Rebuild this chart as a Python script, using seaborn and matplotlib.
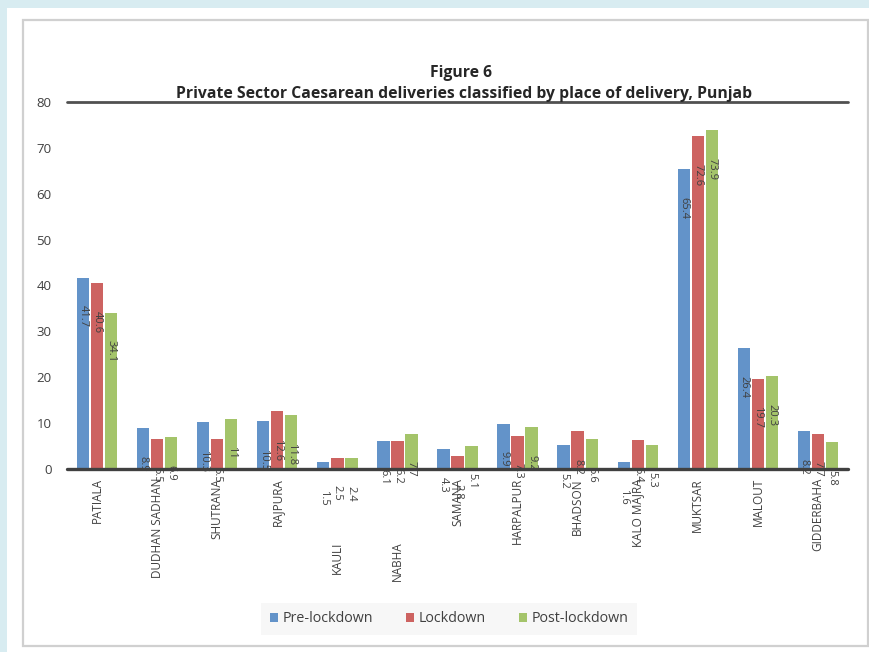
import matplotlib
matplotlib.use("Agg")
import matplotlib.pyplot as plt
import matplotlib.patches as mpatches
import seaborn as sns
import pandas as pd

places = ["PATIALA", "DUDHAN SADHAN", "SHUTRANA", "RAJPURA", "KAULI", "NABHA",
          "SAMANA", "HARPALPUR", "BHADSON", "KALO MAJRA", "MUKTSAR", "MALOUT",
          "GIDDERBAHA"]
pre_lockdown = [41.7, 8.9, 10.3, 10.5, 1.5, 6.1, 4.3, 9.9, 5.2, 1.6, 65.4, 26.4, 8.2]
lockdown = [40.6, 6.5, 6.5, 12.6, 2.5, 6.2, 2.8, 7.3, 8.2, 6.4, 72.6, 19.7, 7.7]
post_lockdown = [34.1, 6.9, 11, 11.8, 2.4, 7.7, 5.1, 9.2, 6.6, 5.3, 73.9, 20.3, 5.8]
series = ["Pre-lockdown", "Lockdown", "Post-lockdown"]
y_ticks = [0, 10, 20, 30, 40, 50, 60, 70, 80]

title_1 = "Figure 6"
title_2 = "Private Sector Caesarean deliveries classified by place of delivery, Punjab"

rows = []
for s, vals in zip(series, [pre_lockdown, lockdown, post_lockdown]):
    for p, v in zip(places, vals):
        rows.append({"place": p, "series": s, "value": v})
df = pd.DataFrame(rows)

sns.set_theme(style="white")
plt.rcParams["font.family"] = ["Open Sans", "DejaVu Sans"]

W, H = 870, 652
fig = plt.figure(figsize=(W / 100, H / 100), dpi=100)
fig.patch.set_facecolor("#d8ecf1")
# white panel and gray chart border
fig.patches.append(mpatches.Rectangle((7 / W, 0), 1, (H - 8) / H, transform=fig.transFigure,
                                      facecolor="white", edgecolor="none", zorder=-3))
fig.patches.append(mpatches.Rectangle((23 / W, (H - 646) / H), (868 - 23) / W, (646 - 20) / H,
                                      transform=fig.transFigure, facecolor="none",
                                      edgecolor="#d0d0d0", linewidth=1.6, zorder=-2))

ax = fig.add_axes([67 / W, (H - 469) / H, (848 - 67) / W, (469 - 102) / H])
ax.set_facecolor("none")

palette = {"Pre-lockdown": "#6393c9", "Lockdown": "#cd6361", "Post-lockdown": "#a4c46a"}
sns.barplot(data=df, x="place", y="value", hue="series", hue_order=series,
            order=places, palette=palette, width=0.7, gap=0.12, ax=ax,
            edgecolor="none", saturation=1)

ax.set_ylim(0, 80)
ax.set_xlim(-0.5, len(places) - 0.5)
ax.set_yticks(y_ticks)
for sp in ax.spines.values():
    sp.set_visible(False)
ax.axhline(0, color="#404040", linewidth=2.4, zorder=5, clip_on=False)
ax.axhline(80, color="#505050", linewidth=2.0, zorder=5, clip_on=False)
ax.set_xlabel("")
ax.set_ylabel("")
ax.tick_params(axis="y", length=0, pad=11, labelsize=9.5, labelcolor="#404040")
ax.tick_params(axis="x", length=0, pad=6.5, labelsize=8.5, labelcolor="#404040",
               labelrotation=90)
for lbl in ax.get_xticklabels():
    lbl.set_va("top")
ticks = ax.xaxis.get_major_ticks()
for i, p in enumerate(places):
    if p in ("KAULI", "NABHA"):
        ticks[i].set_pad(52)

# data labels
for cont in ax.containers:
    for bar in cont:
        h = bar.get_height()
        ax.annotate(f"{h:g}", (bar.get_x() + bar.get_width() / 2, h),
                    xytext=(0, -20), textcoords="offset points",
                    rotation=270, ha="center", va="top", fontsize=8,
                    color="#404040", annotation_clip=False)

fig.text(461 / W, (H - 73) / H, title_1, ha="center", va="center",
         fontsize=11.3, fontweight="bold", color="#262626")
fig.text(464 / W, (H - 94) / H, title_2, ha="center", va="center",
         fontsize=11.3, fontweight="bold", color="#262626")

sns.move_legend(ax, loc="center", bbox_to_anchor=(449 / W, (H - 619) / H),
                bbox_transform=fig.transFigure, ncol=3, title=None, frameon=True,
                fontsize=10.3, handlelength=0.6, handleheight=0.6, handletextpad=0.3,
                columnspacing=2.3, borderpad=0.6)
leg = ax.get_legend()
leg.get_frame().set_facecolor("#f6f6f6")
leg.get_frame().set_edgecolor("none")
leg.get_frame().set_boxstyle("square", pad=0)
for t in leg.get_texts():
    t.set_color("#404040")

fig.savefig("out.png", dpi=100, facecolor=fig.get_facecolor())
